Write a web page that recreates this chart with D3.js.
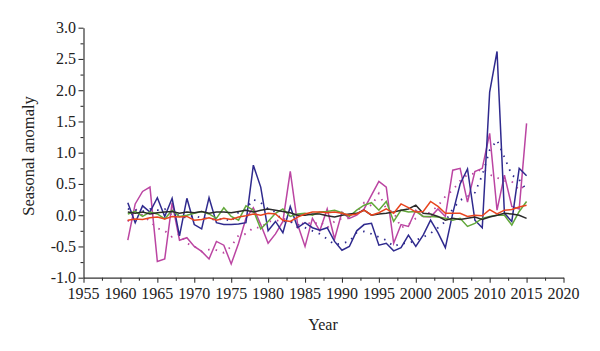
<!DOCTYPE html>
<html>
<head>
<meta charset="utf-8">
<script src="https://cdn.jsdelivr.net/npm/d3@7"></script>
<style>
  html, body { margin: 0; padding: 0; background: #fff; }
  svg { display: block; }
  text { font-family: "Liberation Serif", "DejaVu Serif", serif; fill: #222; }
</style>
</head>
<body>
<svg id="chart" width="600" height="351"></svg>
<script>
const years = d3.range(1961, 2016);

const blue = [0.20,-0.12,0.15,0.05,0.28,-0.02,0.27,-0.33,0.27,-0.15,
  -0.22,0.28,-0.12,-0.15,-0.15,-0.14,-0.12,0.80,0.45,-0.25,
  -0.10,-0.28,0.14,-0.20,-0.12,-0.20,-0.24,-0.20,-0.42,-0.56,
  -0.50,-0.25,-0.15,-0.13,-0.48,-0.45,-0.57,-0.52,-0.32,-0.50,
  -0.32,-0.08,-0.28,-0.52,0.03,0.50,0.74,-0.08,-0.20,1.97,
  2.62,0.03,-0.10,0.75,0.63];

const magenta = [-0.40,0.18,0.38,0.45,-0.74,-0.70,0.20,-0.40,-0.36,-0.50,
  -0.58,-0.70,-0.42,-0.48,-0.78,-0.45,-0.05,0.12,-0.15,-0.45,
  -0.30,-0.10,0.70,-0.15,-0.50,-0.05,-0.25,0.10,-0.38,0.05,
  -0.05,0.00,0.10,0.32,0.54,0.45,-0.45,-0.15,-0.18,0.08,
  -0.02,-0.03,0.10,-0.02,0.72,0.75,0.21,0.70,0.75,1.31,
  0.08,0.64,0.14,0.10,1.47];

const green = [0.02,0.06,-0.02,0.05,0.02,-0.06,0.08,-0.02,0.00,0.03,
  0.06,0.02,-0.05,0.12,-0.02,-0.08,0.15,0.08,-0.22,-0.10,
  0.03,0.10,-0.02,0.02,0.03,0.00,0.05,0.06,0.08,0.04,
  -0.02,0.08,0.16,0.20,0.08,0.22,-0.10,0.08,0.05,0.06,
  -0.02,-0.02,-0.03,-0.05,-0.08,-0.05,-0.18,-0.13,-0.05,-0.02,
  0.00,0.00,-0.16,0.06,0.22];

const red = [-0.08,-0.06,-0.07,-0.04,-0.03,-0.06,-0.02,-0.03,-0.02,-0.08,
  -0.07,-0.04,-0.08,-0.05,-0.07,-0.03,-0.01,0.02,0.00,0.03,
  0.02,-0.08,-0.10,-0.03,0.02,0.05,0.05,0.04,0.05,0.03,
  0.00,0.02,0.08,0.00,0.04,0.10,0.03,0.18,0.12,0.05,
  0.06,0.22,0.14,0.03,0.03,0.03,-0.02,0.00,-0.01,0.09,
  0.02,0.08,0.09,0.13,0.16];

const black = [0.05,0.03,0.05,0.02,0.04,0.05,0.06,0.03,0.05,0.04,
  0.06,0.03,0.05,0.05,0.04,0.06,0.08,0.05,0.08,0.10,
  0.08,0.06,0.04,0.00,0.00,0.02,0.02,-0.01,-0.03,0.00,
  0.02,0.03,0.08,0.00,0.02,0.03,0.05,0.08,0.10,0.16,
  0.03,0.02,-0.02,-0.08,-0.05,-0.07,-0.05,-0.03,-0.07,-0.03,
  0.00,0.03,0.02,0.00,-0.05];

const blueTrend = [0.10,0.08,0.06,0.10,0.08,0.10,0.00,0.01,-0.05,0.00,
  -0.05,-0.05,-0.08,-0.05,-0.10,0.05,0.10,0.25,0.20,0.10,
  0.05,-0.10,-0.10,-0.15,-0.20,-0.25,-0.30,-0.38,-0.47,-0.45,
  -0.42,-0.28,-0.26,-0.30,-0.35,-0.40,-0.50,-0.45,-0.45,-0.40,
  -0.35,-0.29,-0.20,-0.10,0.10,0.24,0.30,0.36,0.64,1.04,
  1.20,0.93,0.64,0.57,0.40];

const magentaTrend = [-0.10,0.10,0.00,-0.10,-0.21,-0.25,-0.35,-0.30,-0.45,-0.50,
  -0.58,-0.55,-0.56,-0.60,-0.50,-0.32,-0.30,-0.20,-0.20,-0.10,
  -0.10,-0.05,-0.10,-0.20,-0.10,-0.15,-0.10,-0.20,-0.10,-0.05,
  -0.05,0.05,0.20,0.15,0.35,0.10,0.05,-0.20,-0.15,-0.05,
  0.00,0.05,0.15,0.30,0.40,0.55,0.65,0.67,0.75,0.65,
  0.60,0.55,0.54,0.40,0.50];

const xTicks = d3.range(1955, 2021, 5);
const yTicks = [-1.0, -0.5, 0.0, 0.5, 1.0, 1.5, 2.0, 2.5, 3.0];

const svg = d3.select("#chart");
const x = d3.scaleLinear().domain([1955, 2020]).range([83.5, 563.5]);
const y = d3.scaleLinear().domain([-1, 3]).range([277.7, 27.7]);

// axes
const xAxis = d3.axisBottom(x).tickValues(d3.range(1955, 2020.1, 2.5))
  .tickSize(0).tickFormat("");
const gx = svg.append("g").attr("transform", "translate(0,277.7)").call(xAxis);
gx.select(".domain").attr("stroke", "#333").attr("stroke-width", 1.2);
gx.selectAll(".tick").each(function(d) {
  const major = Math.abs(d % 5) < 1e-6;
  d3.select(this).select("line").attr("y2", major ? 5 : 3).attr("stroke", "#333").attr("stroke-width", 1.1);
});
svg.append("g").selectAll("text").data(xTicks).join("text")
  .attr("x", d => x(d)).attr("y", 299).attr("text-anchor", "middle")
  .attr("font-size", 16).text(d => d);

const yAxis = d3.axisLeft(y).tickValues(d3.range(-1, 3.01, 0.25)).tickSize(0).tickFormat("");
const gy = svg.append("g").attr("transform", "translate(83.5,0)").call(yAxis);
gy.select(".domain").attr("stroke", "#333").attr("stroke-width", 1.2);
gy.selectAll(".tick").each(function(d) {
  const major = Math.abs((d * 2) - Math.round(d * 2)) < 1e-6;
  d3.select(this).select("line").attr("x2", major ? -5 : -3).attr("stroke", "#333").attr("stroke-width", 1.1);
});
svg.append("g").selectAll("text").data(yTicks).join("text")
  .attr("x", 76).attr("y", d => y(d)).attr("dy", "0.34em").attr("text-anchor", "end")
  .attr("font-size", 16).text(d => d.toFixed(1));

svg.append("text").attr("x", 323).attr("y", 330).attr("text-anchor", "middle")
  .attr("font-size", 16).text("Year");
svg.append("text").attr("transform", "translate(34,156) rotate(-90)")
  .attr("text-anchor", "middle").attr("font-size", 16.5).text("Seasonal anomaly");

const line = d3.line().x((d, i) => x(years[i])).y(d => y(d));

const trends = [
  { data: magentaTrend, color: "#b8449f" },
  { data: blueTrend, color: "#2f2a8e" }
];
svg.append("g").selectAll("path").data(trends).join("path")
  .attr("d", d => line(d.data)).attr("fill", "none").attr("stroke", d => d.color)
  .attr("stroke-width", 1.8).attr("stroke-dasharray", "1.5 6");

const series = [
  { data: magenta, color: "#bb45a2" },
  { data: blue, color: "#2f2a8e" },
  { data: green, color: "#62a83a" },
  { data: black, color: "#2a2a2a" },
  { data: red, color: "#e8441e" }
];
svg.append("g").selectAll("path").data(series).join("path")
  .attr("d", d => line(d.data)).attr("fill", "none").attr("stroke", d => d.color)
  .attr("stroke-width", 1.5).attr("stroke-linejoin", "miter");
</script>
</body>
</html>
